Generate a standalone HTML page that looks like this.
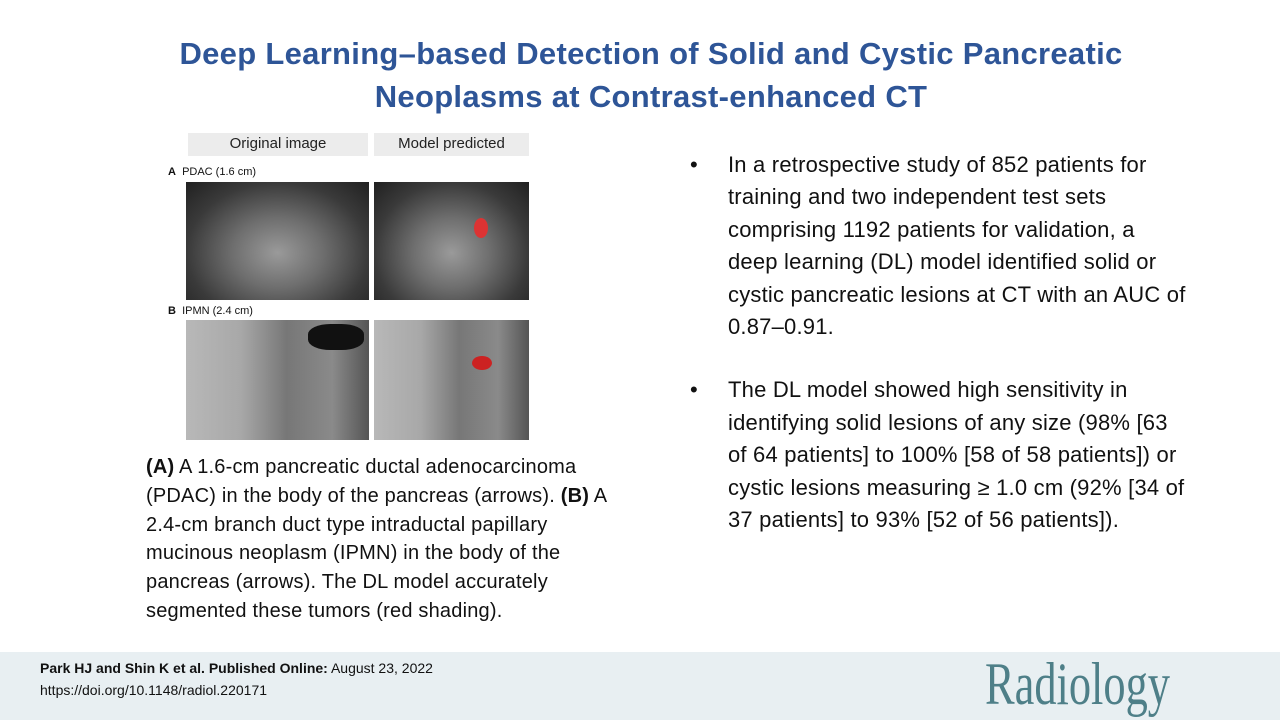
<!DOCTYPE html>
<html><head><meta charset="utf-8"><style>
body{margin:0;width:1280px;height:720px;background:#fff;position:relative;overflow:hidden;font-family:"Liberation Sans",sans-serif}
.t{position:absolute;left:0;width:1302px;text-align:center;top:32px;color:#2e5597;font-weight:bold;font-size:31px;line-height:43px;letter-spacing:0.3px}
.hb{position:absolute;top:133px;height:23px;background:#ececec;font-size:15px;color:#222;text-align:center;line-height:22px}
.lab{position:absolute;font-size:11px;color:#111}
.ct{position:absolute;background:radial-gradient(ellipse at 50% 60%,#9a9a9a 0%,#6e6e6e 35%,#3a3a3a 70%,#202020 100%)}
.ct2{position:absolute;background:linear-gradient(90deg,#b8b8b8 0%,#a8a8a8 30%,#777 55%,#8a8a8a 80%,#555 100%)}
.cap{position:absolute;left:146px;top:453px;font-size:20px;letter-spacing:0.2px;line-height:28.8px;color:#111;white-space:nowrap}
ul{position:absolute;left:690px;top:149px;margin:0;padding:0;list-style:none;font-size:22px;letter-spacing:0.2px;line-height:32.4px;color:#111;white-space:nowrap}
li{position:relative;padding-left:38px;margin-bottom:31px}
li:before{content:"•";position:absolute;left:0}
.ft{position:absolute;left:0;top:652px;width:1280px;height:68px;background:#e8eff2}
</style></head><body>
<div class="t">Deep Learning–based Detection of Solid and Cystic Pancreatic<br>Neoplasms at Contrast-enhanced CT</div>
<div class="hb" style="left:188px;width:180px">Original image</div>
<div class="hb" style="left:374px;width:155px">Model predicted</div>
<div class="lab" style="left:168px;top:166px"><b>A</b>&nbsp; PDAC (1.6 cm)</div>
<div class="ct" style="left:186px;top:182px;width:183px;height:118px"></div>
<div class="ct" style="left:374px;top:182px;width:155px;height:118px"></div>
<div style="position:absolute;left:474px;top:218px;width:14px;height:20px;border-radius:50%;background:#d33"></div>
<div class="lab" style="left:168px;top:305px"><b>B</b>&nbsp; IPMN (2.4 cm)</div>
<div class="ct2" style="left:186px;top:320px;width:183px;height:120px"></div>
<div class="ct2" style="left:374px;top:320px;width:155px;height:120px"></div>
<div style="position:absolute;left:308px;top:324px;width:56px;height:26px;border-radius:40%;background:#111"></div>
<div style="position:absolute;left:472px;top:356px;width:20px;height:14px;border-radius:50%;background:#c22"></div>
<div class="cap"><b>(A)</b> A 1.6-cm pancreatic ductal adenocarcinoma<br>(PDAC) in the body of the pancreas (arrows). <b>(B)</b> A<br>2.4-cm branch duct type intraductal papillary<br>mucinous neoplasm (IPMN) in the body of the<br>pancreas (arrows). The DL model accurately<br>segmented these tumors (red shading).</div>
<ul>
<li>In a retrospective study of 852 patients for<br>training and two independent test sets<br>comprising 1192 patients for validation, a<br>deep learning (DL) model identified solid or<br>cystic pancreatic lesions at CT with an AUC of<br>0.87–0.91.</li>
<li>The DL model showed high sensitivity in<br>identifying solid lesions of any size (98% [63<br>of 64 patients] to 100% [58 of 58 patients]) or<br>cystic lesions measuring ≥ 1.0 cm (92% [34 of<br>37 patients] to 93% [52 of 56 patients]).</li>
</ul>
<div class="ft">
<div style="position:absolute;left:40px;top:5px;font-size:14px;line-height:22px;color:#111"><b>Park HJ and Shin K et al. Published Online:</b> August 23, 2022<br>https://doi.org/10.1148/radiol.220171</div>
<div style="position:absolute;left:985px;top:-2px;font-family:'Liberation Serif',serif;font-size:60px;color:#4e7f88;transform:scaleX(0.74);transform-origin:left">Radiology</div>
</div>
</body></html>
